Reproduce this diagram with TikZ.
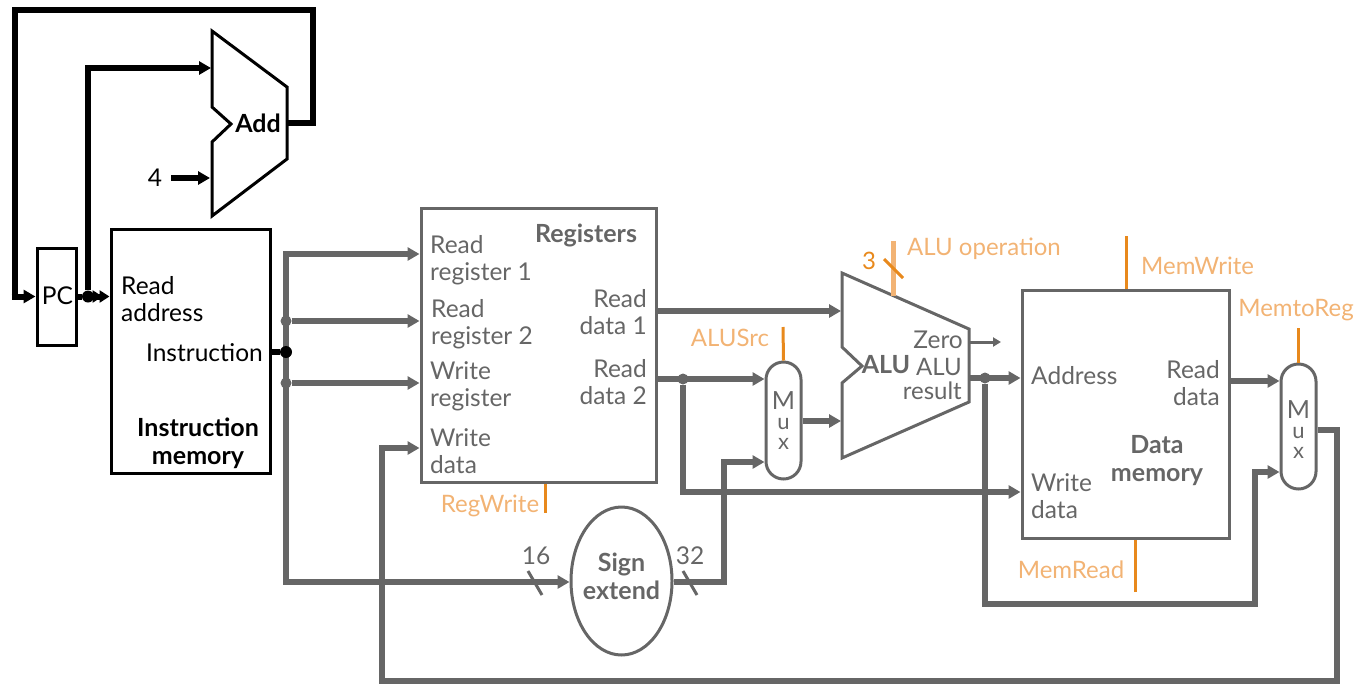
\documentclass[tikz,border=0pt]{standalone}
\usepackage{fontspec}
\setmainfont{Lato}
\usetikzlibrary{arrows.meta,shapes.geometric}
\definecolor{gry}{HTML}{666666}
\definecolor{org}{HTML}{E8891C}
\definecolor{lorg}{HTML}{F2B374}
\tikzset{
  fs/.style={font=\fontsize{24.5}{27}\selectfont},
  txt/.style={fs,inner sep=0pt,align=left},
  txtr/.style={fs,inner sep=0pt,align=right},
  bld/.style={font=\fontsize{25}{28}\selectfont\bfseries,inner sep=0pt,align=center},
  ctl/.style={font=\fontsize{24}{27}\selectfont,inner sep=0pt,text=lorg},
  blkbox/.style={draw=black,line width=3pt,inner sep=0pt},
  grybox/.style={draw=gry,line width=3pt,inner sep=0pt},
  poly/.style={line width=3pt,line join=miter},
  wireb/.style={draw=black,line width=6pt,line join=miter},
  wireg/.style={draw=gry,line width=6pt,line join=miter},
  arrowb/.style={wireb,-{Triangle[length=12pt,width=13pt]}},
  arrowg/.style={wireg,-{Triangle[length=12pt,width=13pt]}},
  dotb/.style={circle,fill=black,inner sep=0pt,minimum size=12pt},
  dotg/.style={circle,fill=gry,inner sep=0pt,minimum size=11pt},
  ctlline/.style={draw=org,line width=3pt},
  slash/.style={draw=gry,line width=3pt}
}
\begin{document}
\begin{tikzpicture}[x=1pt,y=-1pt]
\useasboundingbox (0,0) rectangle (1359,683);
% boxes
\node[blkbox,minimum width=39pt,minimum height=97pt] (pc) at (56.5,296.5) {};
\node[blkbox,minimum width=159pt,minimum height=244pt] (imem) at (190.5,351) {};
\node[grybox,minimum width=235pt,minimum height=274pt] (regs) at (538.5,345) {};
\node[grybox,minimum width=207pt,minimum height=248pt] (dmem) at (1125.5,414) {};
\node[grybox,minimum width=35pt,minimum height=117pt,rounded corners=17.5pt] (muxa) at (783.5,420.5) {};
\node[grybox,minimum width=35pt,minimum height=125pt,rounded corners=17.5pt] (muxb) at (1298.5,426.5) {};
\node[grybox,ellipse,minimum width=101pt,minimum height=148pt] (sext) at (621.5,581) {};
% polygons
\draw[poly,draw=black] (212,31) -- (287,87) -- (287,159) -- (212,216) -- (212,142) -- (231,124) -- (212,107) -- cycle;
\draw[poly,draw=gry] (842,273) -- (969,329) -- (969,402) -- (842,458) -- (842,383) -- (862,366) -- (842,347) -- cycle;
% ports and corners
\coordinate (addA) at (211,68);
\coordinate (addB) at (210,178);
\coordinate (addO) at (287,123);
\coordinate (fourS) at (171,178);
\coordinate (aluA) at (841,311);
\coordinate (aluB) at (841,421);
\coordinate (aluZ) at (969,342);
\coordinate (zeroE) at (1001,342);
\coordinate (aluR) at (969,378);
% black wires
\draw[wireb] (addO) -- (313,123) -- (313,10) -- (14.5,10) -- (14.5,296.5);
\draw[arrowb] (11.5,296.5) -- (pc.west);
\node[dotb] (jpc) at (88,296.5) {};
\draw[wireb] (pc.east) -- (jpc);
\draw[wireb,-{Triangle[length=10pt,width=12pt,sep=-3pt]Triangle[length=10pt,width=12pt]}] (jpc) -- (jpc -| imem.west);
\draw[arrowb] (jpc) |- (addA);
\draw[arrowb] (fourS) -- (addB);
% instruction bus
\node[dotg] (j1) at (286,321) {};
\node[dotg] (j2) at (286,383) {};
\coordinate (jtop) at (286,254);
\coordinate (jbot) at (286,582);
\draw[wireg] (jtop) -- (jbot);
\draw[arrowg] (283,254) -- (jtop -| regs.west);
\draw[arrowg] (j1) -- (j1 -| regs.west);
\draw[arrowg] (j2) -- (j2 -| regs.west);
\draw[arrowg] (283,582) -- (jbot -| sext.west);
\node[dotb] (jins) at (286,352) {};
\draw[wireb] (jins -| imem.east) -- (jins);
% register outputs
\draw[arrowg] (regs.east |- aluA) -- (aluA);
\node[dotg] (jrd) at (683,379) {};
\draw[arrowg] (regs.east |- jrd) -- (muxa.west |- jrd);
\coordinate (jwd) at (683,492);
\draw[arrowg] (jrd) |- (dmem.west |- jwd);
% sign extend out
\coordinate (jmxa) at (724,462);
\coordinate (jsx) at (724,582);
\draw[wireg,-{Triangle[length=12pt,width=13pt]}] (jsx -| sext.east) -- (jsx) -- (jmxa) -- (jmxa -| muxa.west);
\draw[arrowg] (muxa.east |- aluB) -- (aluB);
% ALU outputs
\draw[draw=gry,line width=3pt,-{Triangle[length=8pt,width=9pt]}] (aluZ) -- (zeroE);
\node[dotg] (jal) at (985,378) {};
\draw[arrowg] (aluR) -- (dmem.west |- aluR);
\coordinate (bend1) at (985,604);
\coordinate (bend2) at (1255,472);
\draw[wireg,-{Triangle[length=12pt,width=13pt]}] (jal) -- (bend1) -| (bend2) -- (bend2 -| muxb.west);
\coordinate (jrm) at (1229,381);
\draw[arrowg] (jrm -| dmem.east) -- (jrm -| muxb.west);
% feedback
\coordinate (fbA) at (1337,430);
\coordinate (fbB) at (382,681);
\coordinate (fbC) at (382,448);
\draw[wireg,-{Triangle[length=12pt,width=13pt]}] (fbA -| muxb.east) -- (fbA) |- (fbB) -- (fbC) -- (fbC -| regs.west);
% control lines
\coordinate (c1) at (893,241);
\coordinate (c1e) at (893,296);
\draw[draw=lorg,line width=5pt] (c1) -- (c1e);
\draw[draw=org,line width=3pt] (884,259) -- (903,278);
\coordinate (c2) at (783,327);
\draw[ctlline] (c2) -- (muxa.north);
\coordinate (c3) at (545,513);
\draw[ctlline] (c3 |- regs.south) -- (c3);
\coordinate (c4) at (1126,236);
\draw[ctlline] (c4) -- (c4 |- dmem.north);
\coordinate (c5) at (1135,592);
\draw[ctlline] (c5) -- (c5 |- dmem.south);
\coordinate (c6) at (1298.5,328);
\draw[ctlline] (c6) -- (muxb.north);
% bus slashes
\draw[slash] (528,571) -- (542,595);
\draw[slash] (683,571) -- (697,595);
% black labels
\node[txt,anchor=center] (lpc) at (57.5,296) {PC};
\node[txt,anchor=west] (lra) at (121,299) {Read\\address};
\node[txtr,anchor=east] (lins) at (263,353) {Instruction};
\node[bld] (lim) at (198,443) {Instruction\\memory};
\node[bld] (ladd) at (258,123) {Add};
\node[fs,inner sep=0pt] (lfour) at (155,178) {4};
% gray labels
\node[bld,text=gry] (lreg) at (586,235) {Registers};
\node[txt,anchor=west,text=gry] (r1) at (430,260) {Read\\register 1};
\node[txt,anchor=west,text=gry] (r2) at (431,324) {Read\\register 2};
\node[txt,anchor=west,text=gry] (r3) at (430,386) {Write\\register};
\node[txt,anchor=west,text=gry] (r4) at (430,451) {Write\\data};
\node[txtr,anchor=east,text=gry] (r5) at (647,312) {Read\\data 1};
\node[txtr,anchor=east,text=gry] (r6) at (647,382) {Read\\data 2};
\node[bld,text=gry] (ldm) at (1157,461) {Data\\memory};
\node[txt,anchor=west,text=gry] (d1) at (1031,376) {Address};
\node[txt,anchor=west,text=gry] (d2) at (1031,496) {Write\\data};
\node[txtr,anchor=east,text=gry] (d3) at (1220,383) {Read\\data};
\node[txtr,anchor=east,text=gry] (a1) at (963,340) {Zero};
\node[font=\fontsize{24}{24}\selectfont,inner sep=0pt,align=right,anchor=east,text=gry] (a2) at (962,379) {ALU\\result};
\node[bld,text=gry] (lalu) at (886,365) {ALU};
\node[bld,text=gry] (lse) at (621.5,576) {Sign\\extend};
\node[fs,inner sep=0pt,text=gry] (n16) at (536,556) {16};
\node[fs,inner sep=0pt,text=gry] (n32) at (690,556) {32};
\node[font=\fontsize{22}{20}\selectfont,inner sep=0pt,align=center,text=gry] (ma) at (783.5,421) {{\fontsize{25}{20}\selectfont M}\\u\\x};
\node[font=\fontsize{22}{20}\selectfont,inner sep=0pt,align=center,text=gry] (mb) at (1298.5,430) {{\fontsize{25}{20}\selectfont M}\\u\\x};
% control labels
\node[font=\fontsize{24}{27}\selectfont,inner sep=0pt,text=org] (n3) at (869,261) {3};
\node[ctl,anchor=west] (t1) at (907,249) {ALU operation};
\node[ctl] (t2) at (730,338) {ALUSrc};
\node[ctl] (t3) at (490,506) {RegWrite};
\node[ctl,anchor=west] (t4) at (1141,266) {MemWrite};
\node[ctl] (t5) at (1071,570) {MemRead};
\node[ctl] (t6) at (1296,310) {MemtoReg};
\end{tikzpicture}
\end{document}
